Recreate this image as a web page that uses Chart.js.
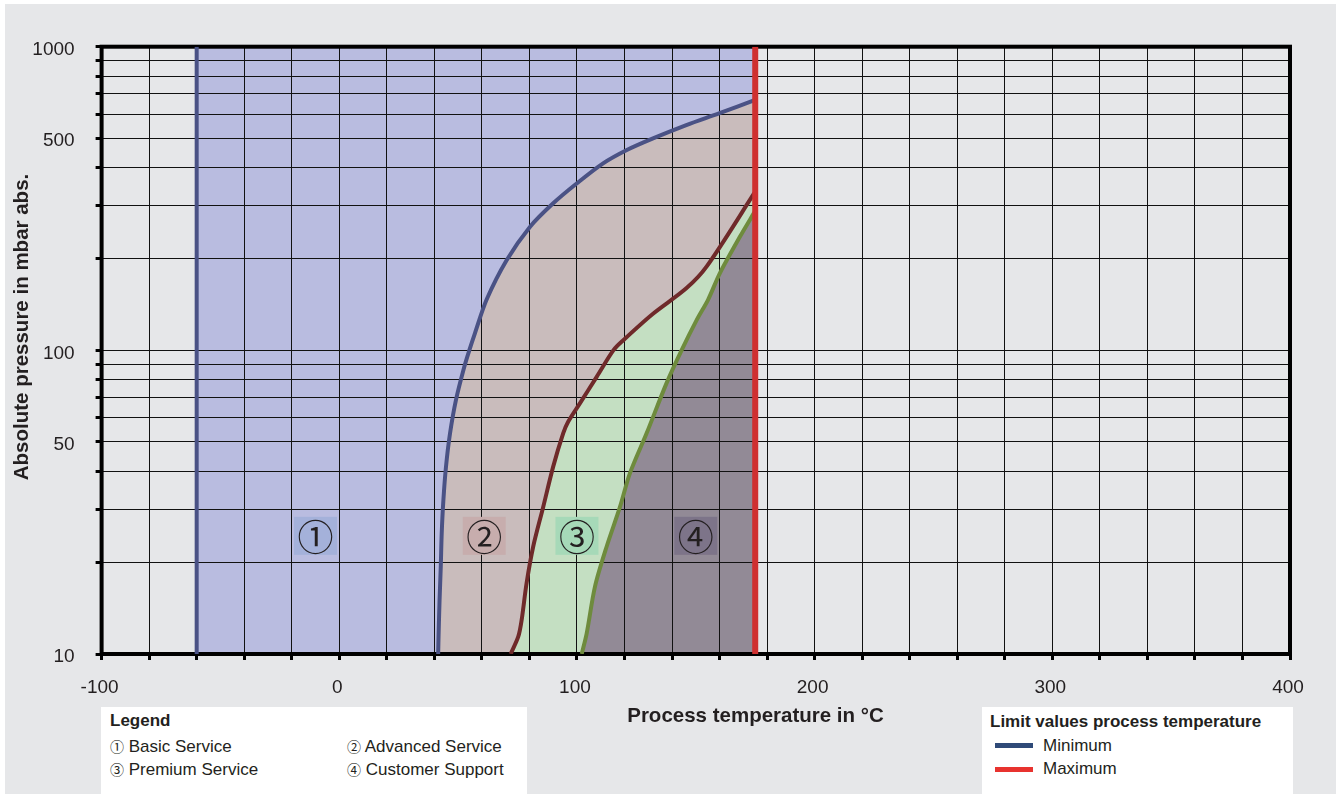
<!DOCTYPE html>
<html>
<head>
<meta charset="utf-8">
<title>Service ranges by process temperature and pressure</title>
<script src="https://cdn.jsdelivr.net/npm/chart.js@4.4.1/dist/chart.umd.min.js"></script>
<style>
  html, body { margin: 0; padding: 0; background: #ffffff; }
  #wrap { position: relative; width: 1336px; height: 794px; overflow: hidden; }
  #panel { position: absolute; left: 5px; top: 4px; width: 1331px; height: 790px; background: #e6e7e9; }
  #chart { position: absolute; left: 0; top: 0; }
  .box { position: absolute; background: #ffffff; font-family: "Liberation Sans", Arial, sans-serif;
         font-size: 17px; line-height: 20px; color: #231f20; }
  .box div { position: absolute; white-space: nowrap; }
  .box b { font-weight: bold; }
  .num { font-family: "Noto Sans CJK JP", "DejaVu Sans", sans-serif; font-size: 14px; }
  .sw { position: absolute; height: 5px; width: 38px; }
</style>
</head>
<body>
<div id="wrap">
  <div id="panel"></div>
  <canvas id="chart" width="1336" height="794"></canvas>

  <div class="box" style="left:101px; top:707px; width:426px; height:87px;">
    <div style="left:9px; top:4px;"><b>Legend</b></div>
    <div style="left:9px; top:29px;"><span class="num">①</span> Basic Service</div>
    <div style="left:246px; top:29px;"><span class="num">②</span> Advanced Service</div>
    <div style="left:9px; top:52px;"><span class="num">③</span> Premium Service</div>
    <div style="left:246px; top:52px;"><span class="num">④</span> Customer Support</div>
  </div>

  <div class="box" style="left:982px; top:707px; width:311px; height:87px;">
    <div style="left:8px; top:5px;"><b>Limit values process temperature</b></div>
    <span class="sw" style="left:13px; top:35.5px; background:#2f4a78;"></span>
    <div style="left:61px; top:29px;">Minimum</div>
    <span class="sw" style="left:13px; top:59.5px; background:#e8332f;"></span>
    <div style="left:61px; top:52px;">Maximum</div>
  </div>
</div>

<script>
// Temperature limits of the process (°C)
const minTemp = -60;
const maxTemp = 175;

// Boundary between Basic and Advanced Service
const blueTemp  = [41.6, 41.8, 42.2, 42.7, 43.1, 43.8, 44.9, 46.6, 49.1, 52.6, 54.7, 57.1, 62, 70.4, 80.2, 90, 100, 111, 121, 132, 146, 160, 175];
const bluePress = [10, 11.7, 15.1, 19.4, 25, 32.1, 41.4, 53.3, 68.7, 88.3, 100, 114, 147, 198, 255, 305, 355, 413, 457, 499, 552, 604, 668];

// Boundary between Advanced and Premium Service
const brownTemp  = [72.1, 75.3, 76.7, 78.8, 81.6, 85.8, 90, 94.2, 96.3, 101.3, 108.3, 115.3, 119.5, 132, 146, 154.6, 175];
const brownPress = [10, 11.4, 12.9, 17.1, 22.6, 30.5, 41.4, 53.3, 58.2, 67, 81.8, 100, 108, 132, 160, 189, 333];

// Boundary between Premium Service and Customer Support
const greenTemp  = [102, 104.1, 107.6, 112.5, 118.1, 122.3, 129.3, 137.7, 144, 150.4, 155.2, 160.2, 168.6, 175];
const greenPress = [10, 11.7, 16.7, 22.6, 30.5, 39.4, 53.3, 78, 100, 126, 147, 180, 237, 288];

// Axis ranges, grid and tick labels
const tempMin = -100, tempMax = 400, tempStep = 20;
const tempLabelStep = 100;
const pressMin = 10, pressMax = 1000;
const pressGrid = [10, 20, 30, 40, 50, 60, 70, 80, 90, 100, 200, 300, 400, 500, 600, 700, 800, 900, 1000];
const pressLabels = [10, 50, 100, 500, 1000];

// Region markers
const regionMarks = ['①', '②', '③', '④'];
const regionLabelTemp = [-10, 61, 100, 150];
const regionLabelPress = 24.5;
const regionColors = ['#b9bce0', '#c9bcbc', '#c4dfc2', '#928a96'];
const regionLabelBg = ['#a4b1da', '#c7adad', '#a6d9b8', '#7d7489'];

const xTitle = 'Process temperature in °C';
const yTitle = 'Absolute pressure in mbar abs.';

const textColor = '#231f20';
const curveTension = 0.3;
const pts = (xs, ys) => xs.map((x, i) => ({ x, y: ys[i] }));

const blueCurve = pts(blueTemp, bluePress);
const brownCurve = pts(brownTemp, brownPress);
const greenCurve = pts(greenTemp, greenPress);

// Joins boundary pieces into one closed outline. Each piece's end points are
// doubled so corners stay sharp and the smoothed edges follow the curves exactly.
function outline(...pieces) {
  const out = [];
  pieces.forEach((p) => {
    if (p.length === 1) out.push(p[0], p[0]);
    else out.push(p[0], ...p, p[p.length - 1]);
  });
  return out;
}
const rev = (a) => a.slice().reverse();

const region1 = outline([{ x: minTemp, y: pressMin }], blueCurve, [{ x: maxTemp, y: pressMax }], [{ x: minTemp, y: pressMax }]);
const region2 = outline(blueCurve, rev(brownCurve));
const region3 = outline(brownCurve, rev(greenCurve));
const region4 = outline(greenCurve, [{ x: maxTemp, y: pressMin }]);

const lineDefaults = { pointRadius: 0, pointHoverRadius: 0, tension: curveTension, fill: false };
const regionDefaults = { pointRadius: 0, pointHoverRadius: 0, tension: curveTension, borderWidth: 0, fill: 'shape' };

// Thick frame around the plotting area
const framePlugin = {
  id: 'frame',
  beforeDatasetsDraw(chart) {
    const { ctx, chartArea: a } = chart;
    ctx.save();
    ctx.strokeStyle = '#000000';
    ctx.lineWidth = 4;
    ctx.strokeRect(a.left, a.top, a.right - a.left, a.bottom - a.top);
    ctx.restore();
  }
};

// Circled region numbers on tinted boxes
const regionLabelPlugin = {
  id: 'regionLabels',
  afterDatasetsDraw(chart) {
    const { ctx, scales: { x, y } } = chart;
    ctx.save();
    regionMarks.forEach((m, i) => {
      const px = x.getPixelForValue(regionLabelTemp[i]);
      const py = y.getPixelForValue(regionLabelPress);
      ctx.fillStyle = regionLabelBg[i];
      ctx.fillRect(px - 21.5, py - 19, 43, 38);
      ctx.fillStyle = textColor;
      ctx.font = '36px "Noto Sans CJK JP"';
      ctx.textAlign = 'center';
      ctx.textBaseline = 'middle';
      ctx.fillText(m, px, py + 1);
    });
    ctx.restore();
  }
};

// Axis titles
const axisTitlePlugin = {
  id: 'axisTitles',
  afterDraw(chart) {
    const { ctx } = chart;
    ctx.save();
    ctx.fillStyle = textColor;
    ctx.font = 'bold 20.5px "Liberation Sans", Arial, sans-serif';
    ctx.textAlign = 'center';
    ctx.textBaseline = 'alphabetic';
    ctx.fillText(xTitle, 755.5, 722);
    ctx.translate(28, 327);
    ctx.rotate(-Math.PI / 2);
    ctx.fillText(yTitle, 0, 0);
    ctx.restore();
  }
};

new Chart(document.getElementById('chart'), {
  type: 'line',
  data: {
    datasets: [
      { ...lineDefaults, label: 'Maximum', data: [{ x: maxTemp, y: pressMin }, { x: maxTemp, y: pressMax }], borderColor: '#cf3030', borderWidth: 6 },
      { ...lineDefaults, label: 'Premium / Customer Support', data: greenCurve, borderColor: '#6e8b3d', borderWidth: 4 },
      { ...lineDefaults, label: 'Advanced / Premium', data: brownCurve, borderColor: '#6f2a2a', borderWidth: 4 },
      { ...lineDefaults, label: 'Basic / Advanced', data: blueCurve, borderColor: '#4a5285', borderWidth: 4 },
      { ...lineDefaults, label: 'Minimum', data: [{ x: minTemp, y: pressMin }, { x: minTemp, y: pressMax }], borderColor: '#4a5285', borderWidth: 4 },
      { ...regionDefaults, label: 'Basic Service', data: region1, backgroundColor: regionColors[0] },
      { ...regionDefaults, label: 'Advanced Service', data: region2, backgroundColor: regionColors[1] },
      { ...regionDefaults, label: 'Premium Service', data: region3, backgroundColor: regionColors[2] },
      { ...regionDefaults, label: 'Customer Support', data: region4, backgroundColor: regionColors[3] }
    ]
  },
  options: {
    responsive: false,
    animation: false,
    events: [],
    layout: { padding: { left: 0, top: 46.7, right: 46, bottom: 0 } },
    plugins: {
      legend: { display: false },
      tooltip: { enabled: false },
      filler: { drawTime: 'beforeDraw' }
    },
    scales: {
      x: {
        type: 'linear',
        position: 'bottom',
        min: tempMin,
        max: tempMax,
        afterFit(scale) { scale.height = 140; },
        border: { display: false },
        grid: { color: '#111111', lineWidth: 1, tickLength: 6, tickWidth: 3, tickColor: '#000000' },
        ticks: {
          stepSize: tempStep,
          autoSkip: false,
          maxRotation: 0,
          padding: 16,
          labelOffset: -2,
          color: textColor,
          font: { family: '"Liberation Sans", Arial, sans-serif', size: 19 },
          callback: (v) => (v % tempLabelStep === 0 ? String(v) : '')
        }
      },
      y: {
        type: 'logarithmic',
        position: 'left',
        min: pressMin,
        max: pressMax,
        afterFit(scale) { scale.width = 101.6; },
        afterBuildTicks(scale) { scale.ticks = pressGrid.map((v) => ({ value: v })); },
        border: { display: false },
        grid: { color: '#111111', lineWidth: 1, tickLength: 6, tickWidth: 3, tickColor: '#000000' },
        ticks: {
          autoSkip: false,
          padding: 21,
          labelOffset: 3,
          color: textColor,
          font: { family: '"Liberation Sans", Arial, sans-serif', size: 19 },
          callback: (v) => (pressLabels.includes(v) ? String(v) : '')
        }
      }
    }
  },
  plugins: [framePlugin, regionLabelPlugin, axisTitlePlugin]
});
</script>
</body>
</html>
